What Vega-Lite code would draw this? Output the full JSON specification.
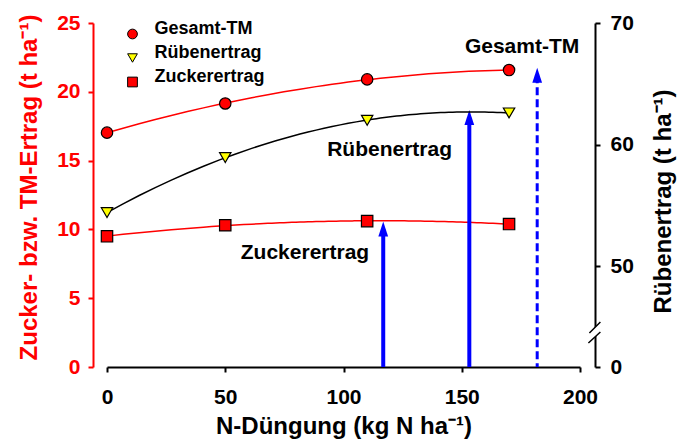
{
  "$schema": "https://vega.github.io/schema/vega-lite/v6.json",
  "width": 473,
  "height": 344,
  "autosize": {"type": "none"},
  "padding": {"left": 107, "top": 23, "right": 97, "bottom": 77},
  "background": "white",
  "config": {
    "view": {"stroke": null},
    "font": "Liberation Sans",
    "axis": {
      "labelFont": "Liberation Sans",
      "titleFont": "Liberation Sans",
      "labelFontWeight": "bold",
      "titleFontWeight": "bold",
      "labelFontSize": 21,
      "titleFontSize": 24,
      "grid": false,
      "domain": true,
      "ticks": true,
      "domainWidth": 2,
      "tickWidth": 2,
      "tickSize": 5,
      "domainColor": "black",
      "tickColor": "black",
      "labelColor": "black",
      "titleColor": "black"
    },
    "axisX": {"domain": true, "ticks": true, "labelFlush": false, "domainColor": "black", "tickColor": "black"}
  },
  "datasets": {
    "pts": [
      {"series": "Gesamt-TM", "x": 0, "y": 17.03},
      {"series": "Gesamt-TM", "x": 50, "y": 19.15},
      {"series": "Gesamt-TM", "x": 110, "y": 20.9},
      {"series": "Gesamt-TM", "x": 170, "y": 21.58},
      {"series": "Zuckerertrag", "x": 0, "y": 9.5},
      {"series": "Zuckerertrag", "x": 50, "y": 10.3},
      {"series": "Zuckerertrag", "x": 110, "y": 10.6},
      {"series": "Zuckerertrag", "x": 170, "y": 10.39}
    ],
    "rueben": [
      {"series": "Rübenertrag", "x": 0, "y": 54.4},
      {"series": "Rübenertrag", "x": 50, "y": 58.93},
      {"series": "Rübenertrag", "x": 110, "y": 62.0},
      {"series": "Rübenertrag", "x": 170, "y": 62.6}
    ],
    "arrows": [
      {"x": 116.8, "y": 10.02, "type": "solid"},
      {"x": 153.2, "y": 18.13, "type": "solid"},
      {"x": 181.9, "y": 21.2, "type": "dashed"}
    ],
    "labels": [
      {"label": "Gesamt-TM", "x": 175.5, "y": 23.26},
      {"label": "Rübenertrag", "x": 119.5, "y": 15.77},
      {"label": "Zuckerertrag", "x": 83.7, "y": 8.28}
    ],
    "brk": [{"x": 206.3, "y": 2.47}]
  },
  "layer": [
    {
      "layer": [
        {
          "data": {"name": "pts"},
          "transform": [
            {"regression": "y", "on": "x", "groupby": ["series"], "method": "poly", "order": 2, "extent": [0, 170]}
          ],
          "mark": {"type": "line", "color": "#ff0000", "strokeWidth": 1.5},
          "encoding": {
            "x": {
              "field": "x", "type": "quantitative",
              "scale": {"domain": [0, 200], "nice": false, "zero": false},
              "axis": {
                "orient": "bottom",
                "domain": true,
                "ticks": true,
                "domainColor": "black",
                "tickColor": "black",
                "labelFlush": false,
                "values": [0, 50, 100, 150, 200],
                "title": "N-Düngung (kg N ha⁻¹)",
                "labelPadding": 14,
                "titlePadding": 7
              }
            },
            "y": {
              "field": "y", "type": "quantitative",
              "scale": {"domain": [0, 25], "nice": false, "zero": false},
              "axis": {
                "orient": "left",
                "offset": 14,
                "values": [0, 5, 10, 15, 20, 25],
                "title": "Zucker- bzw. TM-Ertrag (t ha⁻¹)",
                "titleColor": "#ff0000",
                "labelColor": "#ff0000",
                "domainColor": "#ff0000",
                "tickColor": "#ff0000",
                "labelPadding": 8,
                "titleAngle": 270,
                "titleAlign": "center",
                "titleBaseline": "alphabetic",
                "titleX": -57,
                "titleY": 164
              }
            },
            "detail": {"field": "series"}
          }
        },
        {
          "data": {"name": "arrows"},
          "transform": [{"filter": "datum.type === 'solid'"}],
          "mark": {"type": "rule", "color": "#0000ff", "strokeWidth": 4},
          "encoding": {
            "x": {"field": "x", "type": "quantitative"},
            "y": {"field": "y", "type": "quantitative"},
            "y2": {"datum": 0}
          }
        },
        {
          "data": {"name": "arrows"},
          "transform": [{"filter": "datum.type === 'dashed'"}],
          "mark": {"type": "rule", "color": "#0000ff", "strokeWidth": 3, "strokeDash": [8, 4]},
          "encoding": {
            "x": {"field": "x", "type": "quantitative"},
            "y": {"field": "y", "type": "quantitative"},
            "y2": {"datum": 0}
          }
        },
        {
          "data": {"name": "arrows"},
          "mark": {"type": "point", "shape": "M0,-1L0.65,1L-0.65,1Z", "size": 225, "filled": true, "color": "#0000ff", "opacity": 1},
          "encoding": {
            "x": {"field": "x", "type": "quantitative"},
            "y": {"field": "y", "type": "quantitative"}
          }
        },
        {
          "data": {"name": "labels"},
          "mark": {"type": "text", "font": "Liberation Sans", "fontWeight": "bold", "fontSize": 21, "align": "center", "baseline": "middle", "color": "black"},
          "encoding": {
            "x": {"field": "x", "type": "quantitative"},
            "y": {"field": "y", "type": "quantitative"},
            "text": {"field": "label"}
          }
        },
        {
          "data": {"name": "brk"},
          "mark": {"type": "point", "shape": "M-5.5,0L5.5,-11L5.5,-1L-6.5,10Z", "size": 4, "filled": true, "color": "white", "opacity": 1, "clip": false},
          "encoding": {
            "x": {"field": "x", "type": "quantitative"},
            "y": {"field": "y", "type": "quantitative"}
          }
        },
        {
          "data": {"name": "brk"},
          "mark": {"type": "point", "shape": "M-5.5,0L5.5,-11M-6.5,10L5.5,-1", "size": 4, "filled": false, "color": "black", "strokeWidth": 1.5, "opacity": 1, "clip": false},
          "encoding": {
            "x": {"field": "x", "type": "quantitative"},
            "y": {"field": "y", "type": "quantitative"}
          }
        },
        {
          "data": {"name": "pts"},
          "mark": {"type": "point", "filled": true, "size": 130, "stroke": "black", "strokeWidth": 1.2, "opacity": 1},
          "encoding": {
            "x": {"field": "x", "type": "quantitative"},
            "y": {"field": "y", "type": "quantitative"},
            "color": {
              "field": "series", "type": "nominal",
              "scale": {"domain": ["Gesamt-TM", "Rübenertrag", "Zuckerertrag"], "range": ["#ff0000", "#ffff00", "#ff0000"]},
              "legend": {
                "title": null,
                "orient": "none",
                "legendX": 16.5,
                "legendY": 2,
                "padding": 0,
                "symbolSize": 95,
                "labelFont": "Liberation Sans",
                "labelFontSize": 18,
                "labelFontWeight": "bold",
                "labelColor": "black",
                "labelOffset": 13,
                "labelBaseline": "alphabetic",
                "rowPadding": 3,
                "labelLimit": 300,
                "symbolStrokeColor": "black",
                "symbolStrokeWidth": 1,
                "symbolOpacity": 1
              }
            },
            "shape": {
              "field": "series", "type": "nominal",
              "scale": {"domain": ["Gesamt-TM", "Rübenertrag", "Zuckerertrag"], "range": ["circle", "triangle-down", "square"]},
              "legend": {
                "title": null,
                "orient": "none",
                "legendX": 16.5,
                "legendY": 2,
                "padding": 0,
                "symbolSize": 95,
                "labelFont": "Liberation Sans",
                "labelFontSize": 18,
                "labelFontWeight": "bold",
                "labelColor": "black",
                "labelOffset": 13,
                "labelBaseline": "alphabetic",
                "rowPadding": 3,
                "labelLimit": 300,
                "symbolStrokeColor": "black",
                "symbolStrokeWidth": 1,
                "symbolOpacity": 1
              }
            }
          }
        }
      ]
    },
    {
      "layer": [
        {
          "data": {"name": "rueben"},
          "transform": [
            {"regression": "y", "on": "x", "method": "poly", "order": 2, "extent": [0, 170]}
          ],
          "mark": {"type": "line", "color": "black", "strokeWidth": 1.5},
          "encoding": {
            "x": {"field": "x", "type": "quantitative"},
            "y": {
              "field": "y", "type": "quantitative",
              "scale": {"domain": [41.7, 70], "nice": false, "zero": false},
              "axis": {
                "orient": "right",
                "offset": 15,
                "values": [41.7, 50, 60, 70],
                "labelExpr": "datum.value < 45 ? '0' : datum.label",
                "labelPadding": 10,
                "title": "Rübenertrag (t ha⁻¹)",
                "titleAngle": 270,
                "titleAlign": "center",
                "titleBaseline": "alphabetic",
                "titleX": 75,
                "titleY": 178
              }
            }
          }
        },
        {
          "data": {"name": "rueben"},
          "mark": {"type": "point", "filled": true, "size": 130, "stroke": "black", "strokeWidth": 1.2, "opacity": 1},
          "encoding": {
            "x": {"field": "x", "type": "quantitative"},
            "y": {"field": "y", "type": "quantitative"},
            "color": {"field": "series", "type": "nominal"},
            "shape": {"field": "series", "type": "nominal"}
          }
        }
      ]
    }
  ],
  "resolve": {"scale": {"y": "independent"}}
}
